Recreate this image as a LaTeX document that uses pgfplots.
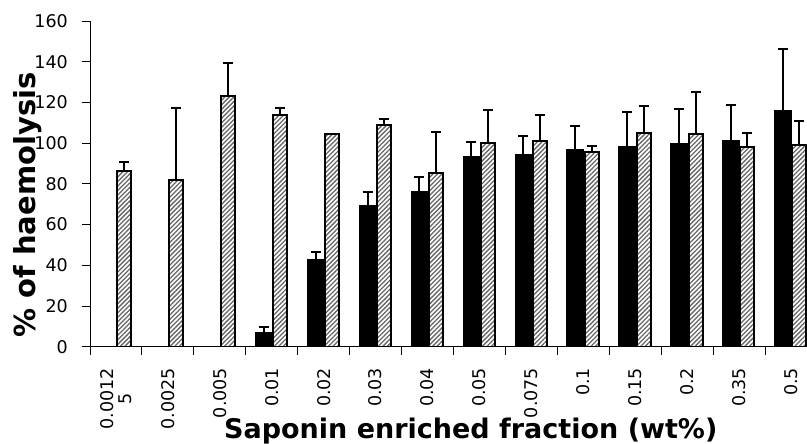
\documentclass[border=0pt]{standalone}
\usepackage{pgfplots}
\pgfplotsset{compat=1.18}
\usepackage{fontspec}
\setmainfont{DejaVu Sans}
\usetikzlibrary{patterns.meta}
\begin{document}
\begin{tikzpicture}
\begin{axis}[
  scale only axis, width=717bp, height=325.7bp,
  at={(0,0)}, anchor=south west,
  xmin=-0.5, xmax=13.31, ymin=0, ymax=160,
  ybar,
  axis lines=left,
  axis line style={-, line width=0.9bp},
  tick align=outside,
  major tick length=8bp, minor tick length=8bp,
  ytick={0,20,...,160},
  xtick={0,...,13},
  xticklabels={{0.0012\\5},0.0025,0.005,0.01,0.02,0.03,0.04,0.05,0.075,0.1,0.15,0.2,0.35,0.5},
  minor xtick={-0.5,0.5,...,13.5},
  major x tick style={draw=none},
  minor x tick style={black, line width=0.9bp},
  y tick style={black, line width=0.9bp},
  /pgf/number format/assume math mode=true,
  ticklabel style={font=\fontsize{17.5bp}{18bp}\selectfont, inner sep=0pt},
  yticklabel style={xshift=-14bp},
  xticklabel style={align=center, yshift=-13bp, rotate=90, anchor=east},
  xlabel={Saponin enriched fraction (wt\%)},
  ylabel={\% of haemolysis},
  xlabel style={font=\fontsize{27bp}{30bp}\selectfont\bfseries, at={(axis description cs:0.531,-0.259)}, anchor=center},
  ylabel style={font=\fontsize{29bp}{32bp}\selectfont\bfseries, at={(axis description cs:-0.0865,0.435)}, anchor=center},
]
\addplot[fill=black, draw=black, line width=1bp, bar width=16.5bp, bar shift=-8bp,
  error bars/.cd, y dir=plus, y explicit,
  error bar style={line width=2bp, black},
  error mark options={rotate=90, mark size=5bp, line width=2bp, black}]
  coordinates {
  (3,7.1) +- (0,2.4)
  (4,42.7) +- (0,3.6)
  (5,69.6) +- (0,6.2)
  (6,76.0) +- (0,7.2)
  (7,93.4) +- (0,7.4)
  (8,94.5) +- (0,9.2)
  (9,96.8) +- (0,11.7)
  (10,98.2) +- (0,16.9)
  (11,99.8) +- (0,17.1)
  (12,101.1) +- (0,17.4)
  (13,116.1) +- (0,30.3)
  };
\addplot[draw=black, line width=2bp, fill=white,
  postaction={pattern={Lines[angle=45, distance=3.2bp, line width=1.3bp]}, pattern color=black!60},
  bar width=14bp, bar shift=8.5bp,
  error bars/.cd, y dir=plus, y explicit,
  error bar style={line width=2bp, black},
  error mark options={rotate=90, mark size=5bp, line width=2bp, black}]
  coordinates {
  (0,86.5) +- (0,4.1)
  (1,81.7) +- (0,35.7)
  (2,123.3) +- (0,16.2)
  (3,113.8) +- (0,3.6)
  (4,104.4) +- (0,0.3)
  (5,109.0) +- (0,3.1)
  (6,85.4) +- (0,20.2)
  (7,100.1) +- (0,16.1)
  (8,100.9) +- (0,13.0)
  (9,95.5) +- (0,3.0)
  (10,105.1) +- (0,12.9)
  (11,104.4) +- (0,20.9)
  (12,98.0) +- (0,6.9)
  (13,99.2) +- (0,11.9)
  };
\coordinate (bl) at (rel axis cs:0,0);
\coordinate (tr) at (rel axis cs:1,1);
\end{axis}
\pgfresetboundingbox
\path[use as bounding box] ([xshift=-90bp,yshift=-97.3bp]bl) rectangle ([yshift=21bp]tr);
\end{tikzpicture}
\end{document}
